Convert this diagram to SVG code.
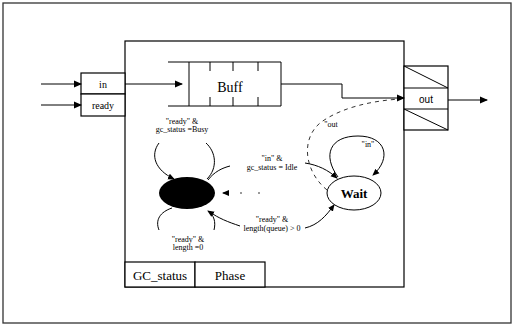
<svg xmlns="http://www.w3.org/2000/svg" width="514" height="326" viewBox="0 0 514 326">
<defs>
<marker id="ah" markerWidth="8" markerHeight="8" refX="7" refY="4" orient="auto" markerUnits="userSpaceOnUse"><path d="M0,0.5 L8,4 L0,7.5 Z" fill="#000"/></marker>
<marker id="ahs" markerWidth="7" markerHeight="7" refX="6" refY="3.5" orient="auto" markerUnits="userSpaceOnUse"><path d="M0,0.5 L7,3.5 L0,6.5 Z" fill="#000"/></marker>
</defs>
<style>
.box{fill:#fff;stroke:#000;stroke-width:1.2}
.ln{fill:none;stroke:#000;stroke-width:1}
.dl{fill:none;stroke:#000;stroke-width:0.8;stroke-dasharray:4 4}
.sparse{stroke-dasharray:2 16}
.t{font-family:"Liberation Serif",serif;fill:#000;text-anchor:middle}
.s{font-family:"Liberation Sans",sans-serif;fill:#000;text-anchor:middle}
.sm{font-size:8px}
</style>
<rect x="0" y="0" width="514" height="326" fill="#fff"/>
<rect x="3" y="3" width="508" height="320" fill="none" stroke="#333" stroke-width="1.3"/>

<g id="main">
<rect class="box" x="125" y="41" width="279" height="246"/>
</g>
<g id="gcstatus"><rect class="box" x="125" y="262" width="70" height="25"/><text class="t" x="160" y="280" font-size="13">GC_status</text></g>
<g id="phase"><rect class="box" x="195" y="262" width="70" height="25"/><text class="t" x="230" y="280" font-size="13">Phase</text></g>

<g id="in"><rect class="box" x="81" y="73" width="44" height="21"/><text class="t" x="103" y="88" font-size="10">in</text></g>
<g id="ready"><rect class="box" x="81" y="94" width="44" height="22"/><text class="t" x="103" y="109" font-size="10">ready</text></g>

<g id="buff">
<path class="ln" d="M168,62 H281 V106 H168 M189,62 V106"/>
<path class="ln" d="M210,62 v9 M233,62 v9 M258,62 v9 M210,106 v-9 M233,106 v-9 M258,106 v-9"/>
<text class="t" x="230" y="92" font-size="14">Buff</text>
</g>

<g id="outport">
<rect class="box" x="404" y="66" width="44" height="64"/>
<path class="ln" d="M404,88 H448 M404,109 H448 M404,66 L448,88 M404,109 L448,130"/>
<text class="s" x="426" y="103" font-size="10">out</text>
</g>

<g id="busy"><ellipse cx="187" cy="193" rx="28" ry="16" fill="#000"/></g>
<g id="wait"><ellipse cx="354" cy="193" rx="27" ry="17" fill="#fff" stroke="#000" stroke-width="1"/><text class="t" x="354" y="198" font-size="13" font-weight="bold">Wait</text></g>

<g id="connectors">
<line class="ln" x1="41" y1="84" x2="81" y2="84" marker-end="url(#ah)"/>
<line class="ln" x1="41" y1="105" x2="81" y2="105" marker-end="url(#ah)"/>
<line class="ln" x1="125" y1="84" x2="182" y2="84" marker-end="url(#ah)"/>
<path class="ln" d="M281,84 H342 V98 H404" marker-end="url(#ah)"/>
<line class="ln" x1="448" y1="100" x2="487" y2="100" stroke-width="1.3" marker-end="url(#ah)"/>
<path class="dl" d="M327,190 C305,172 300,140 320,123 C340,108 370,101 400,99"/>
<path class="ln" d="M159,143 C150,155 155,170 174,179" marker-end="url(#ahs)"/>
<path class="ln" d="M206,143 C216,152 218,168 207,179"/>
<path class="ln" d="M159,230 C155,220 160,212 172,208"/>
<path class="ln" d="M214,230 C216,222 214,215 208,211" marker-end="url(#ahs)"/>
<path class="ln" d="M208,180 C214,172 222,168 230,166"/>
<path class="ln" d="M305,163 C318,165 328,170 337,178" marker-end="url(#ahs)"/>
<path class="ln" d="M240,226 C228,222 218,218 210,212"/>
<path class="ln" d="M305,228 C318,225 326,216 334,205" marker-end="url(#ahs)"/>
<path class="dl sparse" d="M260,193 H223" marker-end="url(#ahs)"/>
<path class="ln" d="M338,177 C322,155 330,136 358,136 C386,136 392,158 373,175" marker-end="url(#ahs)"/>
</g>

<g id="labels">
<text class="t sm" x="182" y="124">"ready" &amp;</text>
<text class="t sm" x="182" y="132">gc_status =Busy</text>
<text class="t sm" x="272" y="161">"in" &amp;</text>
<text class="t sm" x="272" y="170">gc_status = Idle</text>
<text class="t sm" x="272" y="222">"ready" &amp;</text>
<text class="t sm" x="272" y="231">length(queue) &gt; 0</text>
<text class="t sm" x="188" y="242">"ready" &amp;</text>
<text class="t sm" x="188" y="250">length =0</text>
<text class="t sm" x="331" y="127">"out</text>
<text class="t sm" x="368" y="147">"in"</text>
</g>
</svg>
